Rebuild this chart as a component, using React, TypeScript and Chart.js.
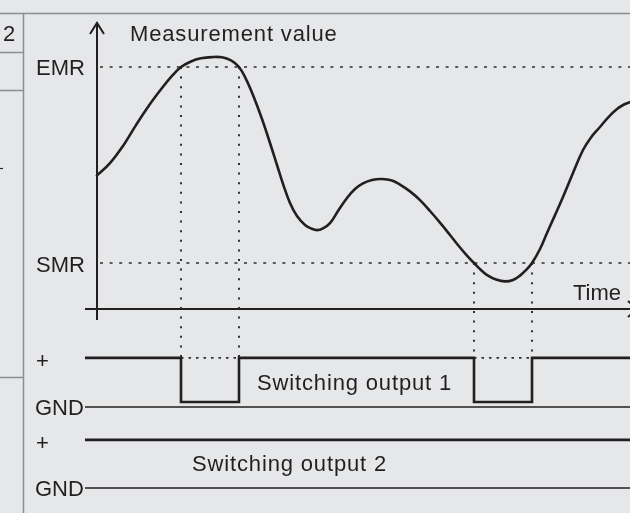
import React, { useEffect, useRef } from 'react';
import { Chart, registerables } from 'chart.js';

Chart.register(...registerables);

const timePoints = [0, 1.3, 2.6, 3.9, 5.2, 6.5, 7.5, 8.4, 9.4, 10.4, 11.5, 12.5, 13.4, 14.2, 14.9, 15.6, 16.5, 17.3, 18.0, 18.6, 19.3, 20.0, 20.8, 21.4, 22.0, 22.6, 23.3, 24.1, 25.0, 25.8, 26.6, 27.5, 28.5, 29.5, 30.3, 31.3, 32.3, 33.3, 34.3, 35.3, 36.3, 37.0, 37.7, 38.4, 39.1, 39.9, 40.8, 41.6, 42.3, 42.9, 43.5, 44.3, 45.0, 45.8, 46.6, 47.6, 48.6, 49.4, 50.3, 51.1, 52.0, 52.7, 53.3];
const measurement = [55.2, 60.3, 67.4, 76.0, 84.1, 91.3, 96.3, 100, 102.3, 103.6, 104.1, 104.0, 102.7, 100, 95.0, 88.4, 78.5, 68.6, 59.5, 51.7, 43.8, 38.4, 34.7, 33.3, 32.6, 33.3, 35.5, 40.5, 45.9, 49.6, 51.9, 53.3, 53.7, 53.1, 51.4, 48.6, 45.0, 40.5, 35.7, 30.6, 25.4, 22.1, 19.0, 16.1, 13.8, 12.2, 11.4, 12.0, 13.8, 16.1, 19.0, 24.8, 31.4, 38.8, 46.3, 56.2, 65.7, 70.9, 75.2, 79.1, 82.6, 84.5, 85.5];

const EMR = 100;
const SMR = 19;
const emrCrossings = [8.4, 14.2];
const smrCrossings = [37.7, 43.5];
const pulseStarts = [8.4, 37.7];
const pulseEnds = [14.2, 43.5];

const signalStart = -1.2;
const signalEnd = 53.3;
const out1High = -20.2;
const out1Low = -38.4;
const gnd1 = -40.5;
const out2High = -54.1;
const gnd2 = -74.0;

const yAxisBottom = -4.5;
const yAxisTop = 118.2;
const xAxisEnd = 54;

const X_MIN = -9.7;
const X_MAX = 53.3;
const Y_MIN = -84.3;
const Y_MAX = 127.69;

const DARK = '#231f20';
const DOTC = '#2e2e2e';
const FRAME = '#8d8d8d';
const FONT = '22px "Liberation Sans", Arial, sans-serif';
const DOTS = [3, 6.6];

function seg(x1: number, y1: number, x2: number, y2: number, opts: any = {}) {
  return {
    data: [{ x: x1, y: y1 }, { x: x2, y: y2 }],
    borderColor: DARK,
    borderWidth: 2,
    pointRadius: 0,
    fill: false,
    tension: 0,
    ...opts,
  };
}

export default function App() {
  const ref = useRef<HTMLCanvasElement | null>(null);

  useEffect(() => {
    const canvas = ref.current;
    if (!canvas) return;

    const datasets: any[] = [];

    // curve
    datasets.push({
      data: timePoints.map((t, i) => ({ x: t, y: measurement[i] })),
      borderColor: DARK,
      borderWidth: 2.6,
      pointRadius: 0,
      fill: false,
      tension: 0.4,
      borderCapStyle: 'round',
      borderJoinStyle: 'round',
    });

    // thresholds
    datasets.push(seg(0.3, EMR, X_MAX, EMR, { borderWidth: 1.6, borderDash: DOTS, borderColor: DOTC }));
    datasets.push(seg(0.3, SMR, X_MAX, SMR, { borderWidth: 1.6, borderDash: DOTS, borderColor: DOTC }));

    // vertical guides
    emrCrossings.forEach((t) => datasets.push(seg(t, EMR, t, out1High, { borderWidth: 2, borderDash: [2, 7.6], borderColor: DOTC })));
    smrCrossings.forEach((t) => datasets.push(seg(t, SMR, t, out1High, { borderWidth: 2, borderDash: [2, 7.6], borderColor: DOTC })));

    // axes
    datasets.push(seg(0, yAxisBottom, 0, yAxisTop, { borderWidth: 2 }));
    datasets.push(seg(signalStart, 0, xAxisEnd, 0, { borderWidth: 2 }));

    // switching output 1
    const out1: any[] = [{ x: signalStart, y: out1High }];
    pulseStarts.forEach((s, i) => {
      out1.push({ x: s, y: out1Low });
      out1.push({ x: pulseEnds[i], y: out1High });
    });
    out1.push({ x: signalEnd, y: out1High });
    datasets.push({
      data: out1,
      stepped: 'before',
      borderColor: DARK,
      borderWidth: 2.6,
      pointRadius: 0,
      fill: false,
    });
    pulseStarts.forEach((s, i) =>
      datasets.push(seg(s, out1High, pulseEnds[i], out1High, { borderWidth: 1.6, borderDash: [2.5, 5], borderColor: DOTC }))
    );
    datasets.push(seg(signalStart, gnd1, signalEnd, gnd1, { borderWidth: 1.5 }));

    // switching output 2
    datasets.push(seg(signalStart, out2High, signalEnd, out2High, { borderWidth: 2.6 }));
    datasets.push(seg(signalStart, gnd2, signalEnd, gnd2, { borderWidth: 1.5 }));

    const decor = {
      id: 'decor',
      afterDraw(chart: any) {
        const ctx = chart.ctx as CanvasRenderingContext2D;
        const xs = chart.scales.x;
        const ys = chart.scales.y;
        const px = (v: number) => xs.getPixelForValue(v);
        const py = (v: number) => ys.getPixelForValue(v);
        ctx.save();

        // table frame
        ctx.strokeStyle = FRAME;
        ctx.lineWidth = 1.5;
        ctx.beginPath();
        ctx.moveTo(0, 13.5); ctx.lineTo(630, 13.5);
        ctx.moveTo(23.5, 13); ctx.lineTo(23.5, 513);
        ctx.moveTo(0, 52.5); ctx.lineTo(23, 52.5);
        ctx.moveTo(0, 90.5); ctx.lineTo(23, 90.5);
        ctx.moveTo(0, 377.5); ctx.lineTo(23, 377.5);
        ctx.stroke();
        ctx.strokeStyle = DARK;
        ctx.lineWidth = 1.2;
        ctx.beginPath();
        ctx.moveTo(0, 168.5); ctx.lineTo(3, 168.5);
        ctx.stroke();

        // arrowheads
        ctx.strokeStyle = DARK;
        ctx.lineWidth = 2;
        ctx.lineJoin = 'miter';
        const tx = px(0), ty = py(yAxisTop);
        ctx.beginPath();
        ctx.moveTo(tx - 7, ty + 11); ctx.lineTo(tx, ty); ctx.lineTo(tx + 7, ty + 11);
        ctx.stroke();
        const ax = px(xAxisEnd), ay = py(0);
        ctx.beginPath();
        ctx.moveTo(ax - 9, ay - 8); ctx.lineTo(ax, ay); ctx.lineTo(ax - 9, ay + 8);
        ctx.stroke();

        // texts
        ctx.fillStyle = DARK;
        ctx.font = FONT;
        ctx.textBaseline = 'alphabetic';
        ctx.textAlign = 'left';
        const lbl = (s: string, x: number, cy: number, spacing = 0) => {
          (ctx as any).letterSpacing = spacing + 'px';
          ctx.fillText(s, x, cy + 7.9);
        };
        lbl('2', 3, 33.5);
        lbl('EMR', 36, py(EMR));
        lbl('SMR', 36, py(SMR) + 1);
        lbl('Measurement value', 130, 33, 0.85);
        lbl('Time', 573, 292);
        lbl('Switching output 1', 257, 382.5, 0.85);
        lbl('Switching output 2', 192, 463, 0.85);
        lbl('+', 36, py(out1High) + 2);
        lbl('GND', 35, py(gnd1));
        lbl('+', 36, py(out2High) + 2);
        lbl('GND', 35, py(gnd2));
        (ctx as any).letterSpacing = '0px';
        ctx.restore();
      },
    };

    const chart = new Chart(canvas, {
      type: 'line',
      data: { datasets },
      options: {
        animation: false,
        responsive: false,
        devicePixelRatio: 1,
        events: [],
        layout: { padding: 0 },
        plugins: { legend: { display: false }, tooltip: { enabled: false } },
        scales: {
          x: { type: 'linear', min: X_MIN, max: X_MAX, display: false },
          y: { type: 'linear', min: Y_MIN, max: Y_MAX, display: false },
        },
      } as any,
      plugins: [decor],
    });
    return () => chart.destroy();
  }, []);

  return (
    <div style={{ position: 'fixed', left: 0, top: 0, width: 630, height: 513, background: '#e6e7e9' }}>
      <canvas ref={ref} width={630} height={513} style={{ display: 'block' }} />
    </div>
  );
}
